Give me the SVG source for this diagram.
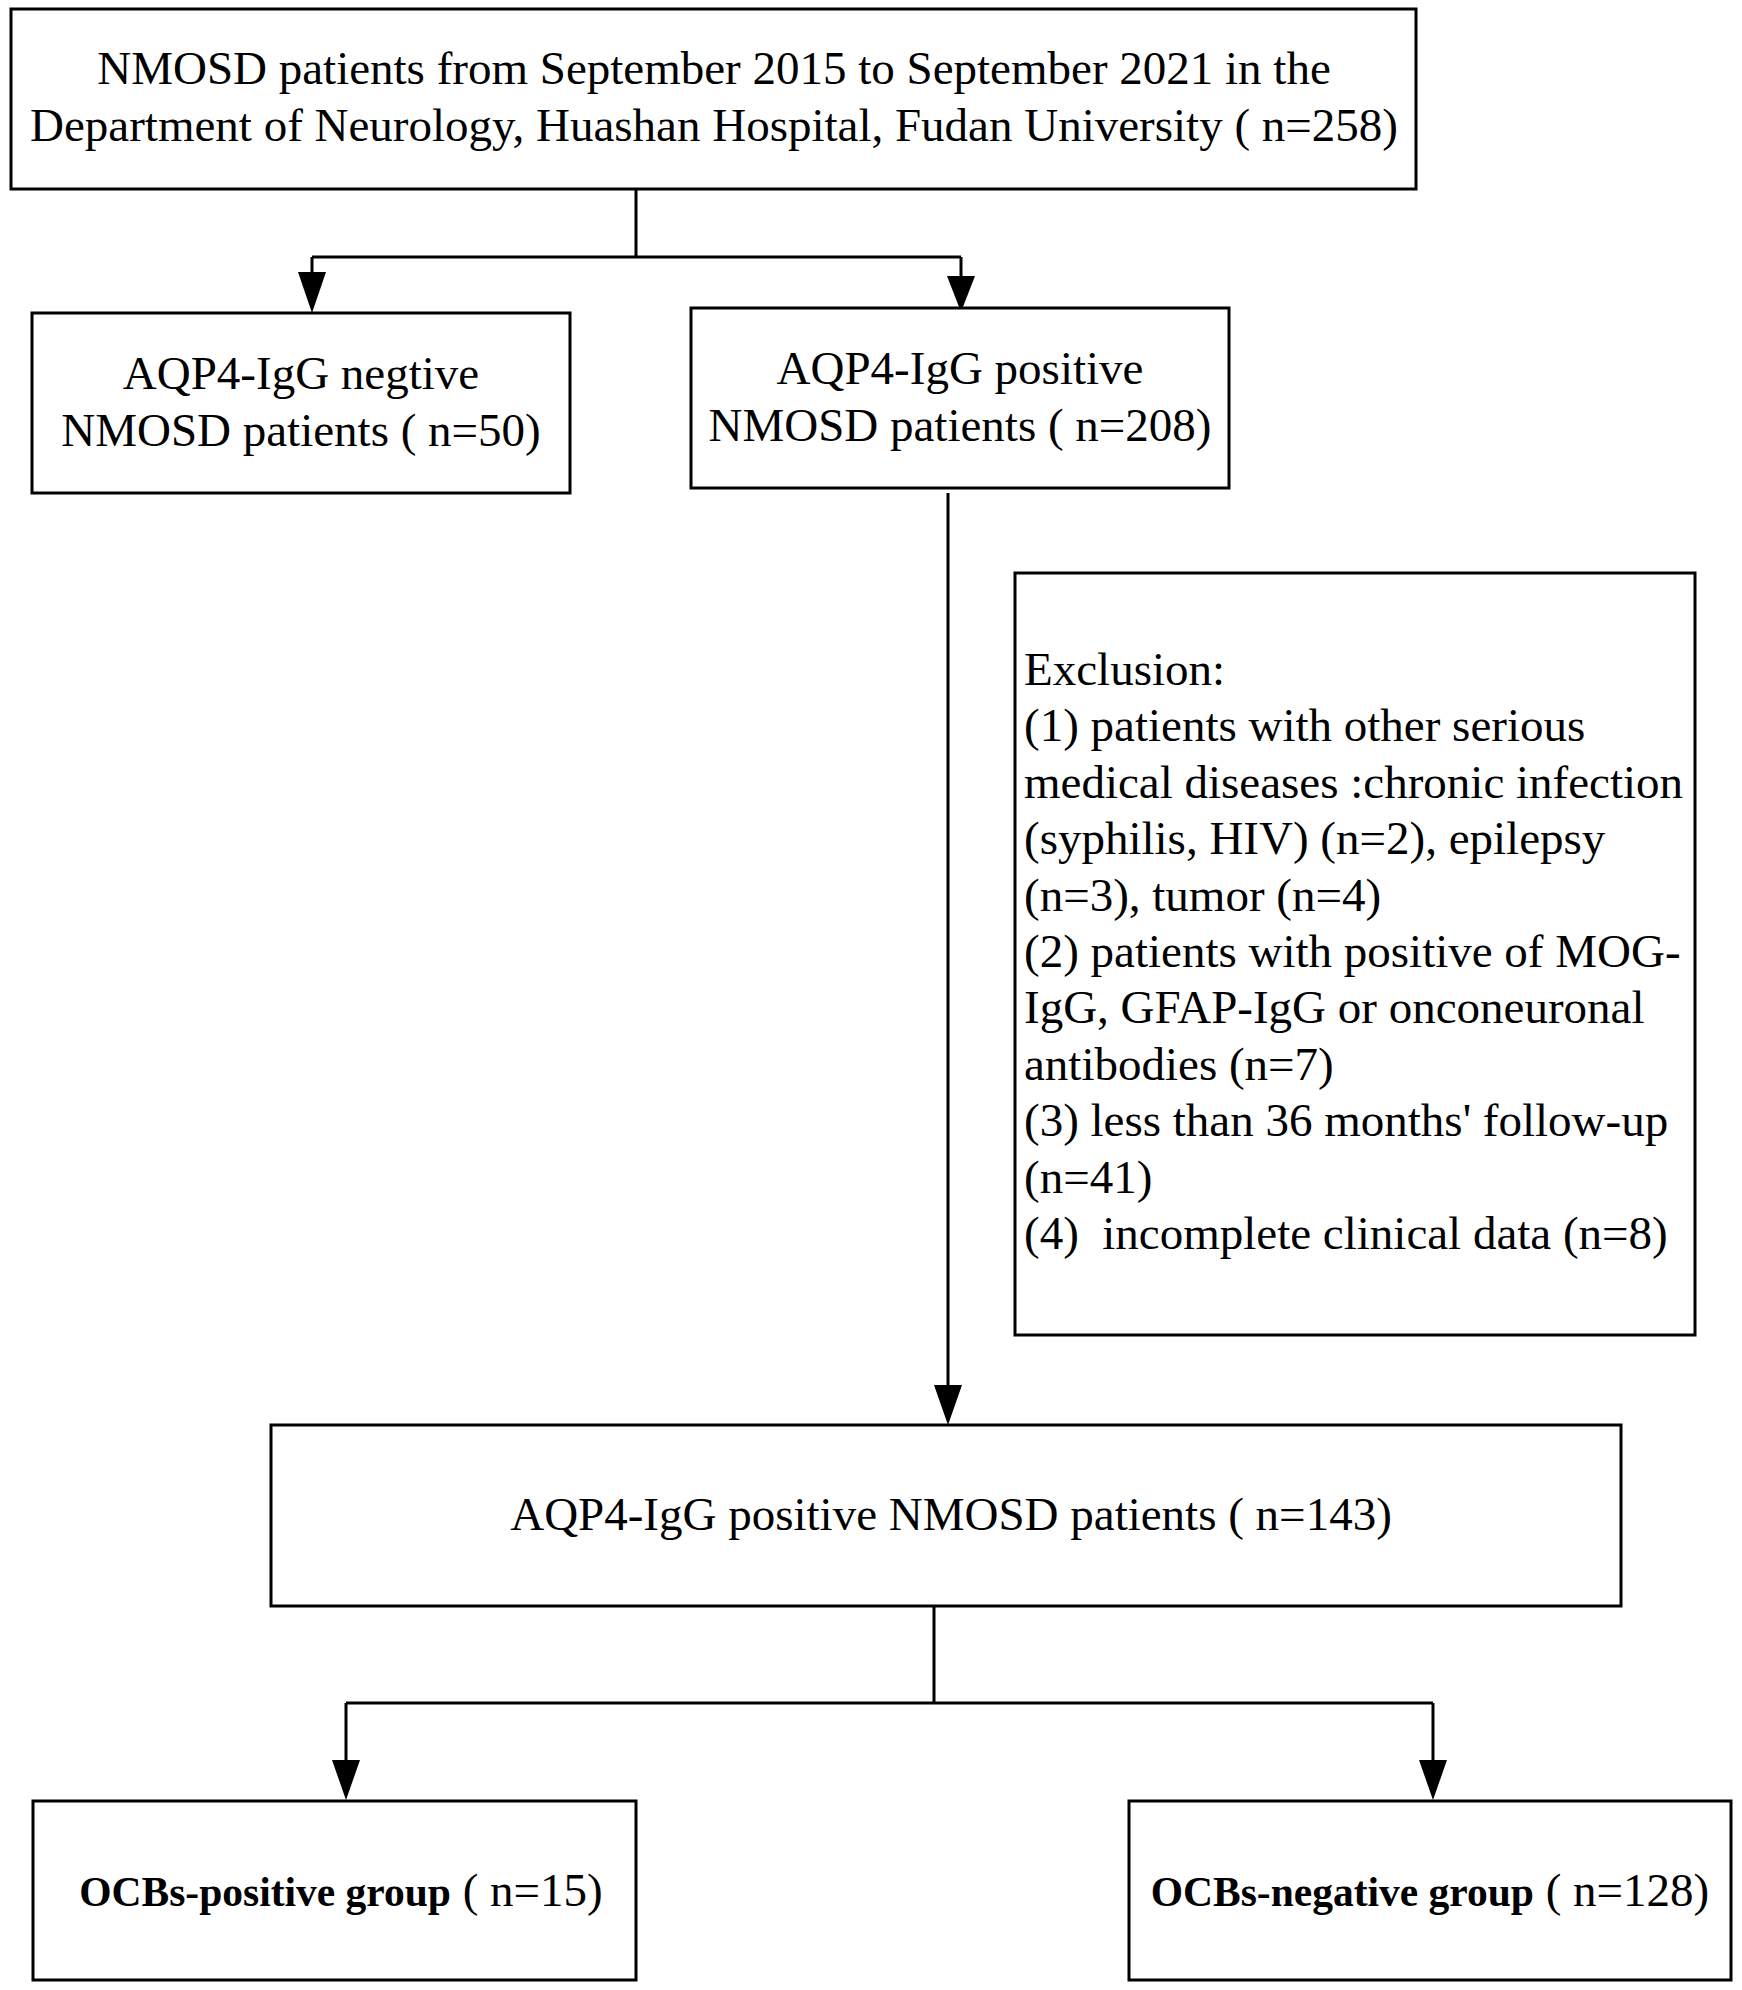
<svg xmlns="http://www.w3.org/2000/svg" width="1742" height="1990" viewBox="0 0 1742 1990">
<style>
.box{fill:#fff;stroke:#000;stroke-width:3}
.t{font-family:"Liberation Serif","Times New Roman",serif;font-size:47px;fill:#000}
.c{text-anchor:middle}
.ocb{font-family:"Liberation Serif","Times New Roman",serif;font-size:47px;fill:#000;text-anchor:middle}
.b{font-weight:bold;font-size:41.5px}
.ln{fill:none;stroke:#000;stroke-width:3}
.ah{fill:#000}
</style>
<rect width="1742" height="1990" fill="#fff"/>
<g id="connectors">
<path class="ln" d="M636,189 V257"/>
<path class="ln" d="M312,257 H961"/>
<path class="ln" d="M312,257 V272"/>
<path class="ln" d="M961,257 V276"/>
<polygon class="ah" points="298,272 326,272 312,313"/>
<polygon class="ah" points="947,276 975,276 961,312"/>
<path class="ln" d="M948,493 V1385"/>
<polygon class="ah" points="934,1385 962,1385 948,1425"/>
<path class="ln" d="M934,1606 V1703"/>
<path class="ln" d="M346,1703 H1433"/>
<path class="ln" d="M346,1703 V1760"/>
<path class="ln" d="M1433,1703 V1760"/>
<polygon class="ah" points="332,1760 360,1760 346,1800"/>
<polygon class="ah" points="1419,1760 1447,1760 1433,1800"/>
</g>
<g id="n-total">
<rect class="box" x="11" y="9" width="1405" height="180"/>
<text class="t c" x="714" y="84">NMOSD patients from September 2015 to September 2021 in the</text>
<text class="t c" x="714" y="141">Department of Neurology, Huashan Hospital, Fudan University ( n=258)</text>
</g>
<g id="n-neg">
<rect class="box" x="32" y="313" width="538" height="180"/>
<text class="t c" x="301" y="389">AQP4-IgG negtive</text>
<text class="t c" x="301" y="446">NMOSD patients ( n=50)</text>
</g>
<g id="n-pos">
<rect class="box" x="691" y="308" width="538" height="180"/>
<text class="t c" x="960" y="384">AQP4-IgG positive</text>
<text class="t c" x="960" y="441">NMOSD patients ( n=208)</text>
</g>
<g id="n-excl">
<rect class="box" x="1015" y="573" width="680" height="762"/>
<text class="t" x="1024" y="685" xml:space="preserve"><tspan x="1024" y="685">Exclusion:</tspan><tspan x="1024" y="741.4">(1) patients with other serious</tspan><tspan x="1024" y="797.8">medical diseases :chronic infection</tspan><tspan x="1024" y="854.2">(syphilis, HIV) (n=2), epilepsy</tspan><tspan x="1024" y="910.6">(n=3), tumor (n=4)</tspan><tspan x="1024" y="967">(2) patients with positive of MOG-</tspan><tspan x="1024" y="1023.4">IgG, GFAP-IgG or onconeuronal</tspan><tspan x="1024" y="1079.8">antibodies (n=7)</tspan><tspan x="1024" y="1136.2">(3) less than 36 months' follow-up</tspan><tspan x="1024" y="1192.6">(n=41)</tspan><tspan x="1024" y="1249">(4)  incomplete clinical data (n=8)</tspan></text>
</g>
<g id="n-143">
<rect class="box" x="271" y="1425" width="1350" height="181"/>
<text class="t c" x="951" y="1530">AQP4-IgG positive NMOSD patients ( n=143)</text>
</g>
<g id="n-ocbpos">
<rect class="box" x="33" y="1801" width="603" height="179"/>
<text class="ocb" x="341" y="1906"><tspan class="b">OCBs-positive group</tspan> ( n=15)</text>
</g>
<g id="n-ocbneg">
<rect class="box" x="1129" y="1801" width="602" height="179"/>
<text class="ocb" x="1430" y="1906"><tspan class="b">OCBs-negative group</tspan> ( n=128)</text>
</g>
</svg>
